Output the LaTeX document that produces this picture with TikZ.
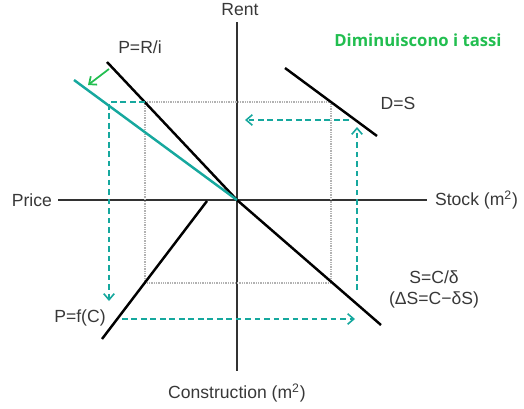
\documentclass[tikz,border=0pt]{standalone}
\usepackage{fontspec}
\setmainfont{Liberation Sans}
\newfontfamily\notefont{Open Sans}
\usepackage{xcolor}
\usepackage{tikz}
\usetikzlibrary{arrows.meta, positioning, calc}

\definecolor{tealline}{RGB}{22,168,158}
\definecolor{notegreen}{RGB}{34,190,80}
\definecolor{axisgray}{RGB}{50,50,50}

\begin{document}
\begin{tikzpicture}[x=0.02cm, y=-0.02cm, >={Straight Barb[length=3.5pt,width=6pt]},
    axis/.style={draw=axisgray, line width=0.9pt},
    curve/.style={draw=black, line width=1.4pt},
    adjust/.style={draw=tealline, line width=0.9pt, dash pattern=on 3.2pt off 2.2pt},
    guide/.style={draw=gray!60, line width=0.8pt, dash pattern=on 0.5pt off 0.5pt},
    lbl/.style={font=\fontsize{10}{12}\selectfont, text=black!78, inner sep=1pt}]
    \useasboundingbox (0,0) rectangle (524,409);
    % axes
    \coordinate (O) at (237,200);
    \coordinate (rtop) at (237,22);
    \coordinate (cbot) at (237,371);
    \coordinate (pleft) at (58,200);
    \coordinate (sright) at (427,200);
    \draw[axis] (rtop) -- (cbot);
    \draw[axis] (pleft) -- (sright);
    \node[lbl] (rent) at (240,10) {Rent};
    \node[lbl, anchor=east] (price) at (54,200) {Price};
    \node[lbl, anchor=west] (stock) at (433,200) {Stock (m\textsuperscript{2})};
    \node[lbl] (constr) at (237,393) {Construction (m\textsuperscript{2})};

    % dotted equilibrium box
    \coordinate (q2) at (145,102);
    \coordinate (q1) at (331,102);
    \coordinate (q4) at (331,283);
    \coordinate (q3) at (145,283);
    \draw[guide] (q2) -- (q1) -- (q4) -- (q3) -- cycle;

    % the four curves
    \coordinate (pri) at (107,62);
    \coordinate (dsa) at (285,68);
    \coordinate (dsb) at (377,136);
    \coordinate (scd) at (381,325);
    \coordinate (pfa) at (102,339);
    \coordinate (pfb) at (207,201);
    \draw[curve] (pri) -- (O) -- (scd);
    \draw[curve] (dsa) -- (dsb);
    \draw[curve] (pfa) -- (pfb);
    \node[lbl] (lpri) at (140,47) {P=R/i};
    \node[lbl] (lds) at (398,103) {D=S};
    \node[lbl, align=center] (lscd) at (434,289) {S=C/δ\\(ΔS=C−δS)};
    \node[lbl] (lpf) at (80,318) {P=f(C)};

    % new price line after the rate cut
    \coordinate (newp) at (74,80);
    \draw[draw=tealline, line width=1.4pt] (newp) -- (O);
    \coordinate (ga) at (109,69);
    \coordinate (gb) at (88,85);
    \draw[->, draw=notegreen, line width=1pt] (ga) -- (gb);
    \node[font=\notefont\bfseries\fontsize{9.5}{11}\selectfont, text=notegreen] (note) at (418,40) {Diminuiscono i tassi};

    % teal adjustment path
    \coordinate (ta) at (109,102);
    \coordinate (tb) at (109,301);
    \coordinate (tc) at (122,319);
    \coordinate (td) at (355,319);
    \coordinate (te) at (357,290);
    \coordinate (tf) at (357,127);
    \coordinate (tg) at (349,120);
    \coordinate (th) at (245,120);
    \draw[adjust, ->] (q2) -- (ta) -- (tb);
    \draw[adjust, ->] (tc) -- (td);
    \draw[adjust, ->] (te) -- (tf);
    \draw[adjust, ->] (tg) -- (th);
\end{tikzpicture}
\end{document}
